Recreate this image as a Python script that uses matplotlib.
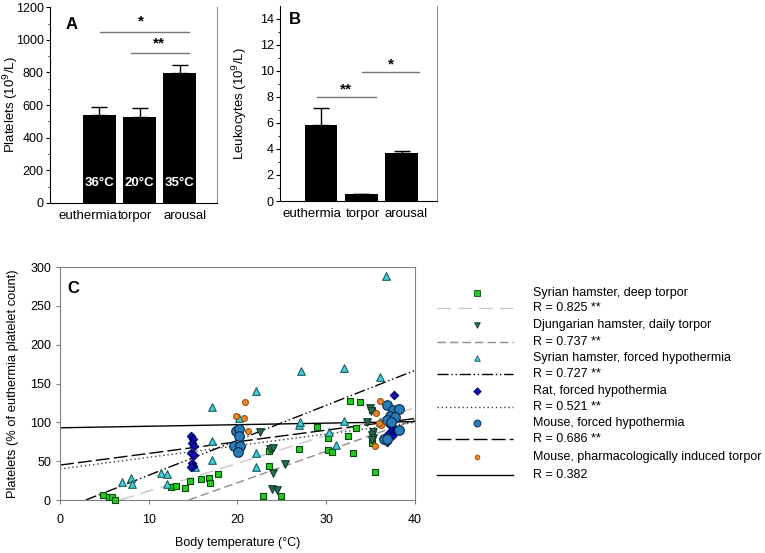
import matplotlib
matplotlib.use("Agg")
import matplotlib.pyplot as plt
import numpy as np

plt.rcParams["font.family"] = ["Liberation Sans", "DejaVu Sans"]
plt.rcParams["font.size"] = 9

# ---- panel A / B data ----
groups = ["euthermia", "torpor", "arousal"]
temps = ["36°C", "20°C", "35°C"]
platelets = [540, 525, 795]
platelets_err = [50, 60, 50]
leukocytes = [5.85, 0.5, 3.65]
leukocytes_err = [1.3, 0.05, 0.2]

# ---- panel C data: (body temperature, % of euthermia platelet count) ----
sh_deep_x = [4.9, 5.5, 5.9, 6.2, 12.5, 13.1, 14.1, 14.6, 15.9, 16.8, 16.9, 17.8, 22.9, 23.5, 23.5,
             24.9, 26.9, 29.0, 30.2, 30.2, 30.6, 32.4, 32.7, 33.0, 33.3, 33.8, 35.1, 35.2, 35.5, 35.1]
sh_deep_y = [6.5, 3.5, 4.5, 0.5, 17, 18, 15, 25, 27, 29, 22, 34, 5, 63, 44,
             5, 66, 94, 80, 65, 62, 83, 128, 61, 93, 126, 73, 78, 36, 116]

djung_x = [22.5, 23.7, 24.0, 24.0, 23.9, 24.5, 25.4, 34.6, 34.9, 35.0, 35.3, 35.2, 35.3, 35.1]
djung_y = [87, 66, 67, 35, 14, 13, 47, 101, 119, 115, 87, 84, 80, 77]

sh_forced_x = [7.0, 8.0, 8.1, 11.4, 12.1, 12.1, 15.2, 17.1, 17.1, 17.1, 20.2, 22.1, 22.1, 22.1,
               26.9, 27.0, 27.1, 30.3, 31.1, 32.0, 32.0, 36.0, 36.1, 36.7]
sh_forced_y = [23.5, 28, 20, 35, 33, 21, 42, 120, 76, 51, 105, 141, 60, 42,
               97, 101, 166, 88, 71, 102, 170, 100, 159, 289]

rat_x = [14.8, 15.0, 14.9, 15.1, 14.8, 15.1, 14.9, 15.0, 14.8,
         37.6, 37.3, 37.7, 37.2, 37.5, 37.4, 37.7, 37.0, 37.4, 36.9, 37.2]
rat_y = [82, 78, 74, 70, 61, 58, 48, 44, 42,
         135, 112, 104, 97, 94, 90, 88, 85, 82, 75, 100]

mouse_x = [19.8, 20.2, 20.2, 19.6, 20.3, 20.1, 36.9, 37.5, 38.2, 37.2, 37.7, 36.8, 37.3, 36.5, 36.8, 38.2]
mouse_y = [89, 91, 83, 70, 70, 62, 123, 116, 117, 108, 107, 103, 101, 79, 78, 90]

pharm_x = [19.8, 20.7, 20.8, 21.2, 35.5, 35.6, 36.1, 36.2, 35.9]
pharm_y = [108.5, 106, 126, 89, 70, 112, 127.5, 97, 99]

# regression fits (slope, intercept)
fit_slope = [3.58, 4.05, 4.5, 1.5, 1.5, 0.2]
fit_icept = [-24.3, -58.7, -13.05, 40, 45, 93]

names = ["Syrian hamster, deep torpor", "Djungarian hamster, daily torpor",
         "Syrian hamster, forced hypothermia", "Rat, forced hypothermia",
         "Mouse, forced hypothermia", "Mouse, pharmacologically induced torpor"]
r_labels = ["R = 0.825 **", "R = 0.737 **", "R = 0.727 **", "R = 0.521 **", "R = 0.686 **", "R = 0.382"]

series = [(sh_deep_x, sh_deep_y), (djung_x, djung_y), (sh_forced_x, sh_forced_y),
          (rat_x, rat_y), (mouse_x, mouse_y), (pharm_x, pharm_y)]
marker_styles = [
    dict(marker="s", s=20, c="#22cc22", edgecolors="#0a4a0a"),
    dict(marker="v", s=30, c="#2a6a50", edgecolors="#123a2a"),
    dict(marker="^", s=30, c="#40d0d8", edgecolors="#1a5a60"),
    dict(marker="D", s=18, c="#1010b0", edgecolors="#000060"),
    dict(marker="o", s=48, c="#2a7ab4", edgecolors="#0a2a50"),
    dict(marker="o", s=18, c="#e8882a", edgecolors="#a05010"),
]
legend_sizes = [14, 16, 16, 14, 26, 12]
line_styles = [
    dict(color="#c8c8c8", lw=1.0, dashes=(10, 5)),
    dict(color="#8c8c8c", lw=1.0, dashes=(6, 3)),
    dict(color="black", lw=1.0, dashes=(8, 2, 1, 2, 1, 2)),
    dict(color="#404040", lw=1.0, dashes=(1, 2)),
    dict(color="black", lw=1.0, dashes=(10, 3)),
    dict(color="black", lw=1.0),
]


def style_bar_axes(ax):
    ax.spines["top"].set_visible(False)
    ax.spines["right"].set_color("#909090")
    ax.tick_params(axis="x", length=0, pad=5, labelsize=9.5)
    ax.tick_params(axis="y", which="major", length=3, pad=1.5, direction="out", labelsize=9)
    ax.tick_params(axis="y", which="minor", length=1.5, direction="out")


def sig_bar(ax, x0, x1, y, star, sx, sy):
    ax.plot([x0, x1], [y, y], color="#777777", lw=1.0)
    ax.text(sx, sy, star, ha="center", va="center", fontsize=11, fontweight="bold")


fig = plt.figure(figsize=(7.65, 5.53), dpi=100)
xpos = np.arange(len(groups))

# panel A
axA = fig.add_axes([0.0654, 0.633, 0.2183, 0.354])
axA.bar(xpos, platelets, width=0.82, color="black",
        yerr=[np.zeros(3), platelets_err], error_kw=dict(ecolor="black", capsize=6, lw=1))
for x, t in zip(xpos, temps):
    axA.text(x, 120, t, color="white", fontweight="bold", ha="center", va="center", fontsize=9.5)
axA.set_xlim(-1.23, 2.93)
axA.set_ylim(0, 1200)
axA.set_yticks(range(0, 1201, 200))
axA.set_yticks(range(0, 1201, 100), minor=True)
axA.set_xticks([-0.29, 0.89, 2.13])
axA.set_xticklabels(groups)
axA.set_ylabel("Platelets (10$^9$/L)", fontsize=9.5)
axA.yaxis.set_label_coords(-0.175, 0.5)
style_bar_axes(axA)
sig_bar(axA, 0.02, 2.22, 1047, "*", 1.03, 1110)
sig_bar(axA, 0.79, 2.24, 918, "**", 1.49, 975)
axA.text(-0.7, 1095, "A", fontsize=12, fontweight="bold", ha="center", va="center")

# panel B
axB = fig.add_axes([0.366, 0.6365, 0.2052, 0.3535])
axB.bar(xpos, leukocytes, width=0.81, color="black",
        yerr=[np.zeros(3), leukocytes_err], error_kw=dict(ecolor="black", capsize=6, lw=1))
axB.set_xlim(-1.02, 2.88)
axB.set_ylim(0, 15)
axB.set_yticks(range(0, 15, 2))
axB.set_yticks(range(0, 15, 1), minor=True)
axB.set_xticks([-0.23, 1.03, 2.1])
axB.set_xticklabels(groups)
axB.set_ylabel("Leukocytes (10$^9$/L)", fontsize=9.5)
axB.yaxis.set_label_coords(-0.19, 0.5)
style_bar_axes(axB)
sig_bar(axB, -0.1, 1.36, 8.0, "**", 0.61, 8.55)
sig_bar(axB, 1.02, 2.43, 9.9, "*", 1.73, 10.5)
axB.text(-0.65, 13.9, "B", fontsize=12, fontweight="bold", ha="center", va="center")

# panel C
axC = fig.add_axes([0.0784, 0.0958, 0.4641, 0.4213])
xline = np.linspace(0, 40, 400)
for m, b, lst in zip(fit_slope, fit_icept, line_styles):
    yl = m * xline + b
    keep = yl >= 0
    axC.plot(xline[keep], yl[keep], zorder=2, **lst)
for (sx, sy), mst in zip(series, marker_styles):
    axC.scatter(sx, sy, linewidths=0.8, zorder=3, clip_on=False, **mst)
axC.set_xlim(0, 40)
axC.set_ylim(0, 300)
axC.set_xticks(range(0, 41, 10))
axC.set_yticks(range(0, 301, 50))
for side in ["top", "right", "left", "bottom"]:
    axC.spines[side].set_color("#808080")
axC.tick_params(axis="both", length=3, direction="out", labelsize=9, color="#808080")
axC.tick_params(axis="x", pad=7)
axC.set_xlabel("Body temperature (°C)", fontsize=9, labelpad=8)
axC.set_ylabel("Platelets (% of euthermia platelet count)", fontsize=9.3)
axC.yaxis.set_label_coords(-0.115, 0.5)
axC.text(1.5, 273, "C", fontsize=12, fontweight="bold", ha="center", va="center")

# legend for panel C, laid out in pixel units
axL = fig.add_axes([0, 0, 1, 1])
axL.set_xlim(0, 765)
axL.set_ylim(553, 0)
axL.axis("off")
row_y = [292.7, 308.3, 325.0, 341.7, 357.7, 374.0, 390.7, 406.7, 423.3, 439.3, 456.7, 475.0]
for i in range(len(names)):
    y_name = row_y[2 * i]
    y_r = row_y[2 * i + 1]
    mst = dict(marker_styles[i])
    mst["s"] = legend_sizes[i]
    axL.scatter([476.7], [y_name], linewidths=0.6, **mst)
    axL.plot([437, 513], [y_r, y_r], **line_styles[i])
    axL.text(533, y_name, names[i], va="center", ha="left", fontsize=9)
    axL.text(533, y_r, r_labels[i], va="center", ha="left", fontsize=9)

plt.savefig("out.png", dpi=100)
plt.close()
